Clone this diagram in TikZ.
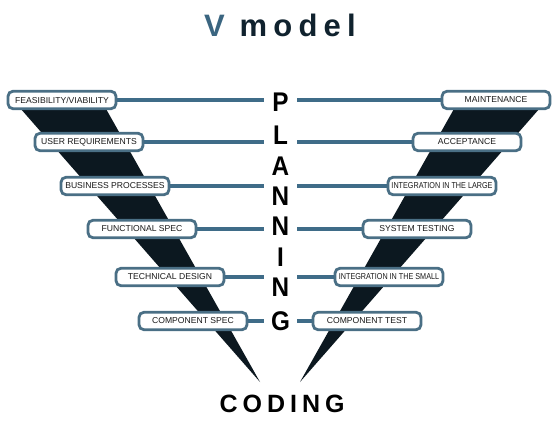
\documentclass[tikz,border=0pt]{standalone}
\usepackage{fontspec}
\setmainfont{Liberation Sans}
\newfontfamily\bigfont[LetterSpace=20]{Liberation Sans}
\newfontfamily\plfont{Liberation Sans}
\definecolor{bandc}{HTML}{0C1820}
\definecolor{linec}{HTML}{3F6C88}
\definecolor{boxc}{HTML}{4A6F85}
\definecolor{titleV}{HTML}{3A6580}
\definecolor{titlem}{HTML}{10222E}
\tikzset{
  phase/.style={draw=boxc, line width=2.8pt, fill=white, rounded corners=5pt,
    minimum width=108pt, minimum height=17.5pt, inner sep=0pt,
    font=\fontsize{8.6}{9}\selectfont, text=black!90},
  conn/.style={draw=linec, line width=3.4pt},
  plet/.style={font=\plfont\bfseries\fontsize{27}{27}\selectfont, inner sep=0pt, text=black, xscale=0.9, transform shape},
  band/.style={fill=bandc, draw=none}
}
\newcommand{\cond}[1]{\scalebox{0.84}[1]{#1}}
\begin{document}
\begin{tikzpicture}[x=1pt,y=-1pt]
\useasboundingbox (0,0) rectangle (559,430);
% bands
\fill[band] (13,100) -- (101,100) -- (260,382) -- cycle;
\fill[band] (547,100) -- (459,100) -- (300,382) -- cycle;
% title
\node[anchor=base west, inner sep=0pt, font=\bigfont\bfseries\fontsize{31}{31}\selectfont] (title) at (204,37)
  {\textcolor{titleV}{V} \textcolor{titlem}{model}};
% PLANNING letters
\node[plet] (lP) at (280.5,102) {P};
\node[plet] (lL) at (280.5,135) {L};
\node[plet] (lA) at (280.5,166) {A};
\node[plet] (lN1) at (280.5,196) {N};
\node[plet] (lN2) at (280.5,226) {N};
\node[plet] (lI) at (280.5,257) {I};
\node[plet] (lN3) at (280.5,287) {N};
\node[plet] (lG) at (280.5,321) {G};
% coordinates near letters
\foreach \n/\y in {1/100,2/142,3/186,4/229,5/277,6/321}{
  \coordinate (L\n) at (264,\y);
  \coordinate (R\n) at (297,\y);
}
% left boxes
\node[phase] (feas) at (62,100) {FEASIBILITY/VIABILITY};
\node[phase] (user) at (89,142) {USER REQUIREMENTS};
\node[phase] (bus) at (115,186) {BUSINESS PROCESSES};
\node[phase] (func) at (142,229) {FUNCTIONAL SPEC};
\node[phase] (tech) at (170,277) {TECHNICAL DESIGN};
\node[phase] (cspec) at (193,321) {COMPONENT SPEC};
% right boxes
\node[phase] (maint) at (496,100) {MAINTENANCE};
\node[phase] (acc) at (467,142) {ACCEPTANCE};
\node[phase] (intl) at (442,186) {\cond{INTEGRATION IN THE LARGE}};
\node[phase] (sys) at (417,229) {SYSTEM TESTING};
\node[phase] (ints) at (389,277) {\cond{INTEGRATION IN THE SMALL}};
\node[phase] (ctest) at (367,321) {COMPONENT TEST};
% connectors
\draw[conn] (feas.east) -- (L1);
\draw[conn] (user.east) -- (L2);
\draw[conn] (bus.east) -- (L3);
\draw[conn] (func.east) -- (L4);
\draw[conn] (tech.east) -- (L5);
\draw[conn] (cspec.east) -- (L6);
\draw[conn] (R1) -- (maint.west);
\draw[conn] (R2) -- (acc.west);
\draw[conn] (R3) -- (intl.west);
\draw[conn] (R4) -- (sys.west);
\draw[conn] (R5) -- (ints.west);
\draw[conn] (R6) -- (ctest.west);
% CODING
\node[inner sep=0pt, font=\bigfont\bfseries\fontsize{25}{25}\selectfont, text=black] (coding) at (282,404) {CODING};
\end{tikzpicture}
\end{document}
